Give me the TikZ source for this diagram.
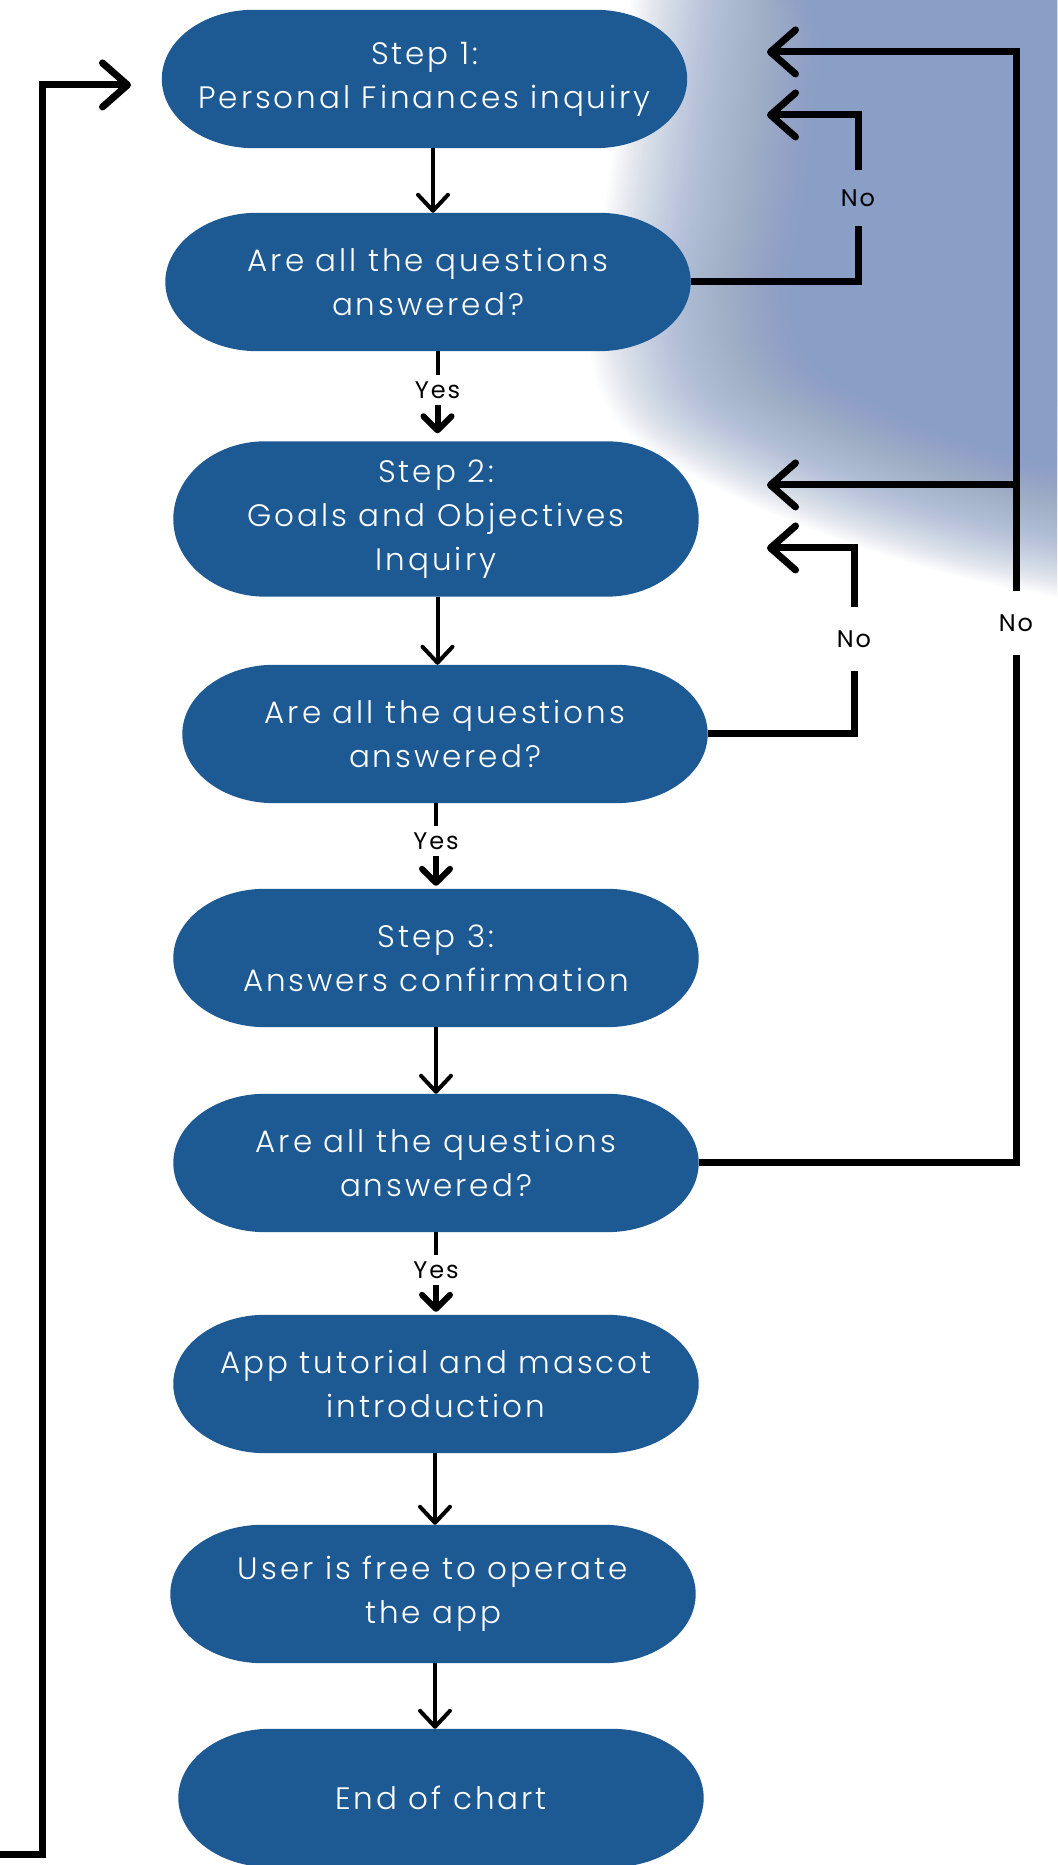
\documentclass[tikz,border=0pt]{standalone}
\usepackage{fontspec}
\setmainfont{Poppins}[UprightFont={* Light}, LetterSpace=9.5]
\newfontfamily\labelfont{Poppins}[LetterSpace=8]
\usetikzlibrary{arrows.meta,calc}

\definecolor{boxblue}{RGB}{29,89,147}
\definecolor{glowblue}{RGB}{138,159,197}

\pgfdeclarelayer{bg}
\pgfdeclarelayer{pills}
\pgfsetlayers{bg,pills,main}

% pill-shaped fill with elliptic ends behind a node
\newcommand\pillfill[1]{%
  \fill[boxblue] let \p1=(#1.south west), \p2=(#1.north east),
      \n1={(\y2-\y1)/2} in
    (\x1+92pt,\y2) -- (\x2-92pt,\y2)
    arc[start angle=90,end angle=-90,x radius=92pt,y radius=\n1]
    -- (\x1+92pt,\y1)
    arc[start angle=270,end angle=90,x radius=92pt,y radius=\n1]
    -- cycle;}

\tikzset{
  stepbox/.style={rectangle, minimum width=525pt, minimum height=138pt,
    inner sep=0pt, align=center, text=white,
    font=\fontsize{31}{44}\selectfont},
  tallbox/.style={stepbox, minimum height=155pt},
  flow/.style={line width=4pt, -{Straight Barb[length=16pt,width=30pt,round]}},
  plainseg/.style={line width=4pt},
  yesarrow/.style={line width=6pt, -{Straight Barb[length=14pt,width=28pt,round]}},
  backline/.style={line width=7pt, line join=miter},
  backarrow/.style={backline, -{Straight Barb[length=25pt,width=44pt,round]}},
  yeslabel/.style={font=\labelfont\fontsize{24}{24}\selectfont, text=black,
    inner xsep=2pt, inner ysep=6pt, text height=17pt, text depth=0pt},
  nolabel/.style={yeslabel, inner ysep=23pt},
  glowlayer/.style={glowblue, opacity=0.028},
}

\begin{document}
\begin{tikzpicture}[x=1pt,y=1pt]
\useasboundingbox (0,0) rectangle (1057,1865);

% white page with a soft blue glow in the upper right corner,
% built from many faint, growing copies of one outline
\begin{pgfonlayer}{bg}
  \fill[white] (0,0) rectangle (1057,1865);
  \clip (0,0) rectangle (1057,1865);
  \begin{scope}[shift={(1150,1615)}]
    \foreach \i in {0,...,99}{%
      \pgfmathsetmacro\sc{0.55+\i*0.63/99}
      \fill[glowlayer, scale=\sc]
        plot[smooth cycle, tension=0.6] coordinates {
          (-410,400) (-435,250) (-460,50) (-478,-50) (-455,-140)
          (-380,-195) (-250,-250) (-100,-290) (100,-310) (250,-50)
          (150,400)};
    }
  \end{scope}
\end{pgfonlayer}

% flow steps
\node[stepbox] (s1)  at (424.5,1786) {Step 1:\\Personal Finances inquiry};
\node[stepbox] (q1)  at (428,1583)   {Are all the questions\\answered?};
\node[tallbox] (s2)  at (436,1346)   {Step 2:\\Goals and Objectives\\Inquiry};
\node[stepbox] (q2)  at (445,1131)   {Are all the questions\\answered?};
\node[stepbox] (s3)  at (436,907)    {Step 3:\\Answers confirmation};
\node[stepbox] (q3)  at (436,702)    {Are all the questions\\answered?};
\node[stepbox] (app) at (436,481)    {App tutorial and mascot\\introduction};
\node[stepbox] (usr) at (433,271)    {User is free to operate\\the app};
\node[stepbox] (fin) at (441,67)     {End of chart};

\begin{pgfonlayer}{pills}
  \foreach \nm in {s1,q1,s2,q2,s3,q3,app,usr,fin}{\pillfill{\nm}}
\end{pgfonlayer}

% downward flow
\draw[flow] ([xshift=8.5pt]s1.south) -- ([xshift=5pt]q1.north);

\node[yeslabel] (y1) at (437.5,1475) {Yes};
\draw[plainseg] (q1.south -| y1) -- (y1.north);
\draw[yesarrow, shorten >=8pt] (y1.south) -- (s2.north -| y1);

\draw[flow] ([xshift=1.5pt]s2.south) -- ([xshift=-7.5pt]q2.north);

\node[yeslabel] (y2) at (436,1024) {Yes};
\draw[plainseg] (q2.south -| y2) -- (y2.north);
\draw[yesarrow, shorten >=3pt] (y2.south) -- (s3.north -| y2);

\draw[flow] (s3.south) -- (q3.north);

\node[yeslabel] (y3) at (436,595) {Yes};
\draw[plainseg] (q3.south -| y3) -- (y3.north);
\draw[yesarrow, shorten >=3pt] (y3.south) -- (app.north -| y3);

\draw[flow] ([xshift=-1pt]app.south) -- ([xshift=2pt]usr.north);
\draw[flow] ([xshift=2pt]usr.south) -- ([xshift=-6pt]fin.north);

% "No" returns on the right
\node[nolabel, inner ysep=19pt] (n1) at (858,1667) {No};
\coordinate (t1) at (767,1750);
\draw[backline] (q1.east) -| (n1.south);
\draw[backarrow] (n1.north) |- (t1);

\node[nolabel] (n2) at (854,1226) {No};
\coordinate (t2) at (767,1317);
\draw[backline] (q2.east) -| (n2.south);
\draw[backarrow] (n2.north) |- (t2);

\node[nolabel] (n3) at (1016,1242) {No};
\coordinate (t3) at (767,1813);
\coordinate (t4) at (767,1380);
\coordinate (j)  at (1016,1380);
\draw[backline] (q3.east) -| (n3.south);
\draw[backarrow] (n3.north) |- (t3);
\draw[backarrow] (j) -- (t4);

% loop back to the start on the left
\coordinate (l0) at (0,10);
\coordinate (l1) at (42,1780);
\coordinate (l2) at (131,1780);
\draw[backarrow] (l0) -| (l1) -- (l2);
\end{tikzpicture}
\end{document}
